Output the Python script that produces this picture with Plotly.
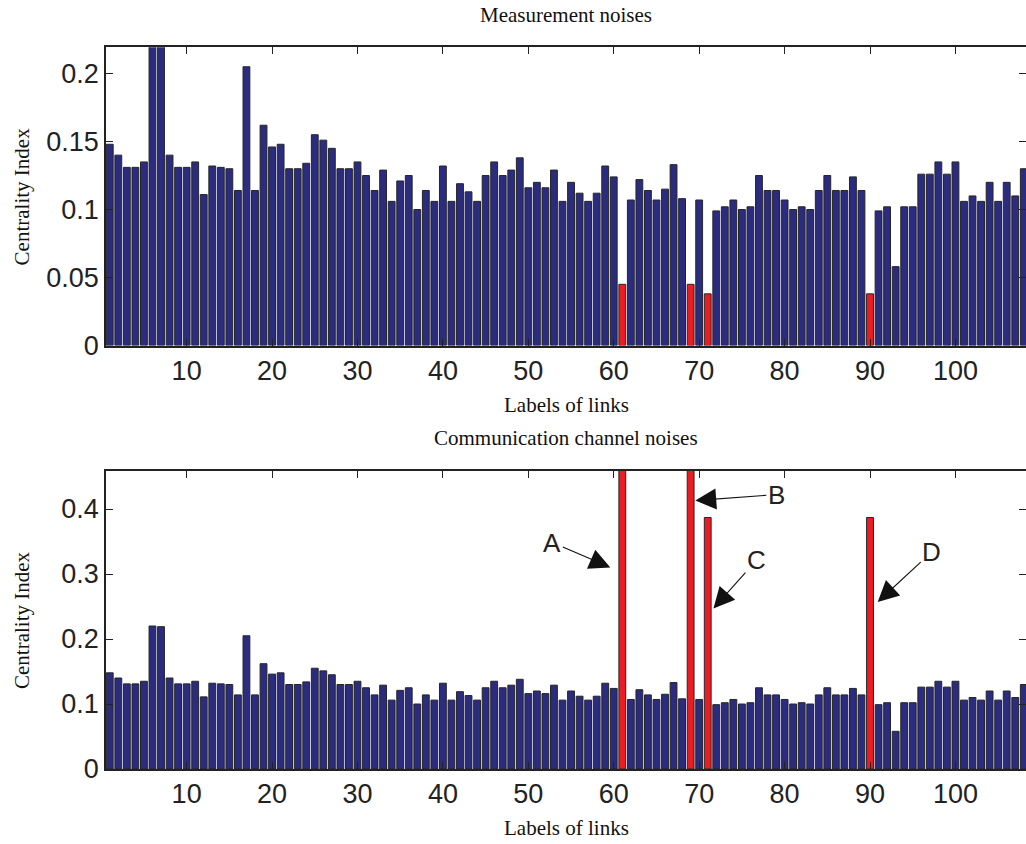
import plotly.graph_objects as go

links = list(range(1, 109))

meas_values = [
    0.148, 0.140, 0.131, 0.131, 0.135, 0.220, 0.220, 0.140, 0.131, 0.131,
    0.135, 0.111, 0.132, 0.131, 0.130, 0.114, 0.205, 0.114, 0.162, 0.146,
    0.148, 0.130, 0.130, 0.134, 0.155, 0.151, 0.145, 0.130, 0.130, 0.135,
    0.125, 0.114, 0.129, 0.106, 0.121, 0.125, 0.100, 0.114, 0.106, 0.132,
    0.106, 0.119, 0.113, 0.106, 0.125, 0.135, 0.125, 0.129, 0.138, 0.116,
    0.120, 0.116, 0.129, 0.106, 0.120, 0.112, 0.106, 0.112, 0.132, 0.124,
    0.045, 0.107, 0.122, 0.114, 0.107, 0.115, 0.133, 0.108, 0.045, 0.107,
    0.038, 0.099, 0.102, 0.107, 0.100, 0.102, 0.125, 0.114, 0.114, 0.107,
    0.100, 0.102, 0.100, 0.114, 0.125, 0.114, 0.114, 0.124, 0.114, 0.038,
    0.099, 0.102, 0.058, 0.102, 0.102, 0.126, 0.126, 0.135, 0.126, 0.135,
    0.106, 0.110, 0.106, 0.120, 0.106, 0.120, 0.110, 0.130,
]

comm_values = [
    0.148, 0.140, 0.131, 0.131, 0.135, 0.220, 0.219, 0.140, 0.131, 0.131,
    0.135, 0.111, 0.132, 0.131, 0.130, 0.114, 0.205, 0.114, 0.162, 0.146,
    0.148, 0.130, 0.130, 0.134, 0.155, 0.151, 0.145, 0.130, 0.130, 0.135,
    0.125, 0.114, 0.129, 0.106, 0.121, 0.125, 0.100, 0.114, 0.106, 0.132,
    0.106, 0.119, 0.113, 0.106, 0.125, 0.135, 0.125, 0.129, 0.138, 0.116,
    0.120, 0.116, 0.129, 0.106, 0.120, 0.112, 0.106, 0.112, 0.132, 0.124,
    0.500, 0.107, 0.122, 0.114, 0.107, 0.115, 0.133, 0.108, 0.500, 0.107,
    0.387, 0.099, 0.102, 0.107, 0.100, 0.102, 0.125, 0.114, 0.114, 0.107,
    0.100, 0.102, 0.100, 0.114, 0.125, 0.114, 0.114, 0.124, 0.114, 0.387,
    0.099, 0.102, 0.058, 0.102, 0.102, 0.126, 0.126, 0.135, 0.126, 0.135,
    0.106, 0.110, 0.106, 0.120, 0.106, 0.120, 0.110, 0.130,
]

red_links = [61, 69, 71, 90]

x_ticks = [10, 20, 30, 40, 50, 60, 70, 80, 90, 100]
top_y_ticks = [0, 0.05, 0.1, 0.15, 0.2]
top_y_labels = ["0", "0.05", "0.1", "0.15", "0.2"]
bot_y_ticks = [0, 0.1, 0.2, 0.3, 0.4]
bot_y_labels = ["0", "0.1", "0.2", "0.3", "0.4"]

# arrow annotations: label, head x (link), head y (value), text offset px
arrow_labels = ["A", "B", "C", "D"]
arrow_x = [59.6, 69.55, 71.67, 90.9]
arrow_y = [0.310, 0.413, 0.247, 0.257]
arrow_ax = [-58, 81, 43, 54]
arrow_ay = [-25, -6, -48, -50]

BLUE = "#2b2b80"
RED = "#ec1c24"
colors = [RED if l in red_links else BLUE for l in links]

fig = go.Figure()
fig.add_trace(go.Bar(x=links, y=meas_values, marker=dict(color=colors, line=dict(color="#262626", width=1)),
                     xaxis="x", yaxis="y", showlegend=False))
fig.add_trace(go.Bar(x=links, y=comm_values, marker=dict(color=colors, line=dict(color="#262626", width=1)),
                     xaxis="x2", yaxis="y2", showlegend=False))

W, H = 1026, 844
tickfont = dict(family="Liberation Sans, Arial, sans-serif", size=27, color="#222")
common_x = dict(range=[0.56, 108.26], tickvals=x_ticks, ticktext=[str(t) for t in x_ticks],
                ticks="inside", ticklen=7, tickwidth=1, tickcolor="#222", showline=True, linecolor="#222",
                linewidth=1.5, mirror="ticks", showgrid=False, zeroline=False, tickfont=tickfont,
                domain=[106 / W, 1.0], automargin=False)
common_y = dict(ticks="inside", ticklen=7, tickwidth=1, tickcolor="#222", showline=True, linecolor="#222",
                linewidth=1.5, mirror="ticks", showgrid=False, zeroline=False, tickfont=tickfont,
                automargin=False)

def py(p):
    return 1 - p / H

fig.update_layout(
    width=W, height=H,
    margin=dict(l=0, r=0, t=0, b=0, pad=0),
    paper_bgcolor="white", plot_bgcolor="white",
    bargap=0.2,
    xaxis=dict(**common_x, anchor="y"),
    yaxis=dict(**common_y, range=[0, 0.2193], tickvals=top_y_ticks, ticktext=top_y_labels,
               domain=[py(345.5), py(47.3)], anchor="x"),
    xaxis2=dict(**common_x, anchor="y2"),
    yaxis2=dict(**common_y, range=[0, 0.4585], tickvals=bot_y_ticks, ticktext=bot_y_labels,
                domain=[py(769), py(471)], anchor="x2"),
)

serif = dict(family="Liberation Serif, Times New Roman, serif", size=21, color="#111")
texts = [
    ("Measurement noises", "x domain", 0.5, py(15), 0),
    ("Labels of links", "x domain", 0.5, py(405), 0),
    ("Communication channel noises", "x domain", 0.5, py(438), 0),
    ("Labels of links", "x domain", 0.5, py(828), 0),
    ("Centrality Index", "paper", 22 / W, py(196.4), -90),
    ("Centrality Index", "paper", 22 / W, py(620), -90),
]
for t, xr, x, y, ang in texts:
    fig.add_annotation(text=t, xref=xr, yref="paper", x=x, y=y, showarrow=False,
                       xanchor="center", yanchor="middle", textangle=ang, font=serif)

for lab, hx, hy, ax, ay in zip(arrow_labels, arrow_x, arrow_y, arrow_ax, arrow_ay):
    fig.add_annotation(text=lab, x=hx, y=hy, xref="x2", yref="y2", ax=ax, ay=ay,
                       showarrow=True, arrowhead=2, arrowsize=3.8, arrowwidth=1.1, arrowcolor="#111",
                       font=dict(family="Liberation Sans, Arial, sans-serif", size=26, color="#222"))

fig.write_html("out.html", config={"displayModeBar": False},
               post_script="document.body.style.margin='0';document.body.style.overflow='hidden';")
